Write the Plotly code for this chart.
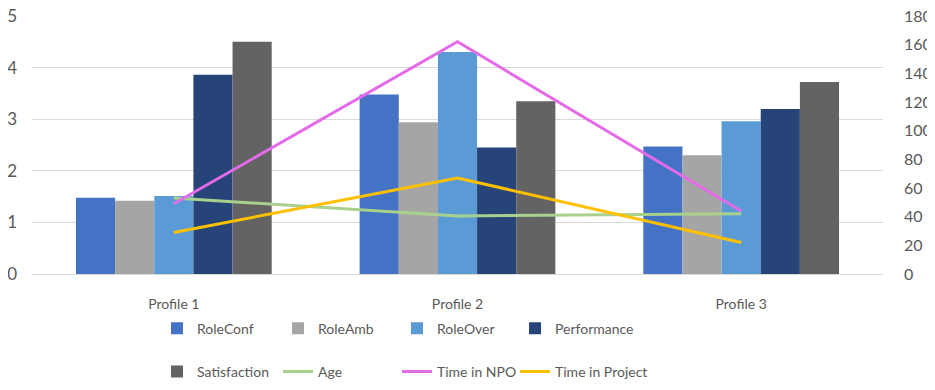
import plotly.graph_objects as go

profiles = ["Profile 1", "Profile 2", "Profile 3"]
role_conf = [1.48, 3.48, 2.47]
role_amb = [1.42, 2.94, 2.30]
role_over = [1.51, 4.30, 2.96]
performance = [3.86, 2.45, 3.20]
satisfaction = [4.50, 3.35, 3.72]
age = [53, 40.5, 42]
time_npo = [49, 162, 44]
time_project = [29, 67, 22]

FONT = "Lato"
TXT = "#595959"

# legend slots (column x in paper coords, row y in paper coords)
col_x = [0.1469, 0.2891, 0.4289, 0.5676]
row_y = [-0.212, -0.379]

fig = go.Figure()
bars = [
    ("RoleConf", role_conf, "#4472C4"),
    ("RoleAmb", role_amb, "#A5A5A5"),
    ("RoleOver", role_over, "#5B9BD5"),
    ("Performance", performance, "#264478"),
    ("Satisfaction", satisfaction, "#636363"),
]
lines = [
    ("Age", age, "#A9D18E"),
    ("Time in NPO", time_npo, "#E46BE8"),
    ("Time in Project", time_project, "#FFC000"),
]

legend_layout = {}
idx = 0
def legend_name(i):
    return "legend" if i == 0 else f"legend{i+1}"

for name, vals, col in bars:
    ln = legend_name(idx)
    fig.add_trace(go.Bar(
        x=profiles, y=vals, name=name, marker=dict(color=col, line=dict(width=0)),
        legend=ln,
    ))
    legend_layout[ln] = dict(x=col_x[idx % 4], y=row_y[idx // 4])
    idx += 1

for name, vals, col in lines:
    ln = legend_name(idx)
    fig.add_trace(go.Scatter(
        x=profiles, y=vals, name=name, mode="lines", yaxis="y2",
        line=dict(color=col, width=3), legend=ln,
    ))
    legend_layout[ln] = dict(x=col_x[idx % 4], y=row_y[idx // 4])
    idx += 1

for ln, pos in legend_layout.items():
    legend_layout[ln] = dict(
        orientation="h", xanchor="left", yanchor="middle",
        font=dict(family=FONT, size=14, color=TXT), itemwidth=30,
        bgcolor="rgba(0,0,0,0)", **pos,
    )

# the page body adds an 8px offset; margins compensate so the plot lands where the reference has it
fig.update_layout(
    width=935, height=390,
    margin=dict(l=24, r=60, t=8, b=124.4, autoexpand=False),
    plot_bgcolor="white", paper_bgcolor="white",
    barmode="group", bargap=0.31, bargroupgap=0,
    font=dict(family=FONT, size=14, color=TXT),
    xaxis=dict(showgrid=False, showline=False, ticks="", tickfont=dict(size=14, color=TXT),
               ticklabelstandoff=20, automargin=False),
    yaxis=dict(range=[0, 5], dtick=1, showgrid=True, gridcolor="#D9D9D9", gridwidth=1,
               zeroline=True, zerolinecolor="#D9D9D9", zerolinewidth=1,
               tickfont=dict(size=17, color=TXT), ticklabelstandoff=14, showline=False,
               automargin=False, ticklabeloverflow="allow"),
    yaxis2=dict(range=[0, 180], dtick=20, overlaying="y", side="right", showgrid=False,
                zeroline=False, tickfont=dict(size=16, color=TXT), ticklabelstandoff=20,
                showline=False, automargin=False, ticklabeloverflow="allow"),
    showlegend=True,
    **legend_layout,
)

fig.write_html("out.html")
